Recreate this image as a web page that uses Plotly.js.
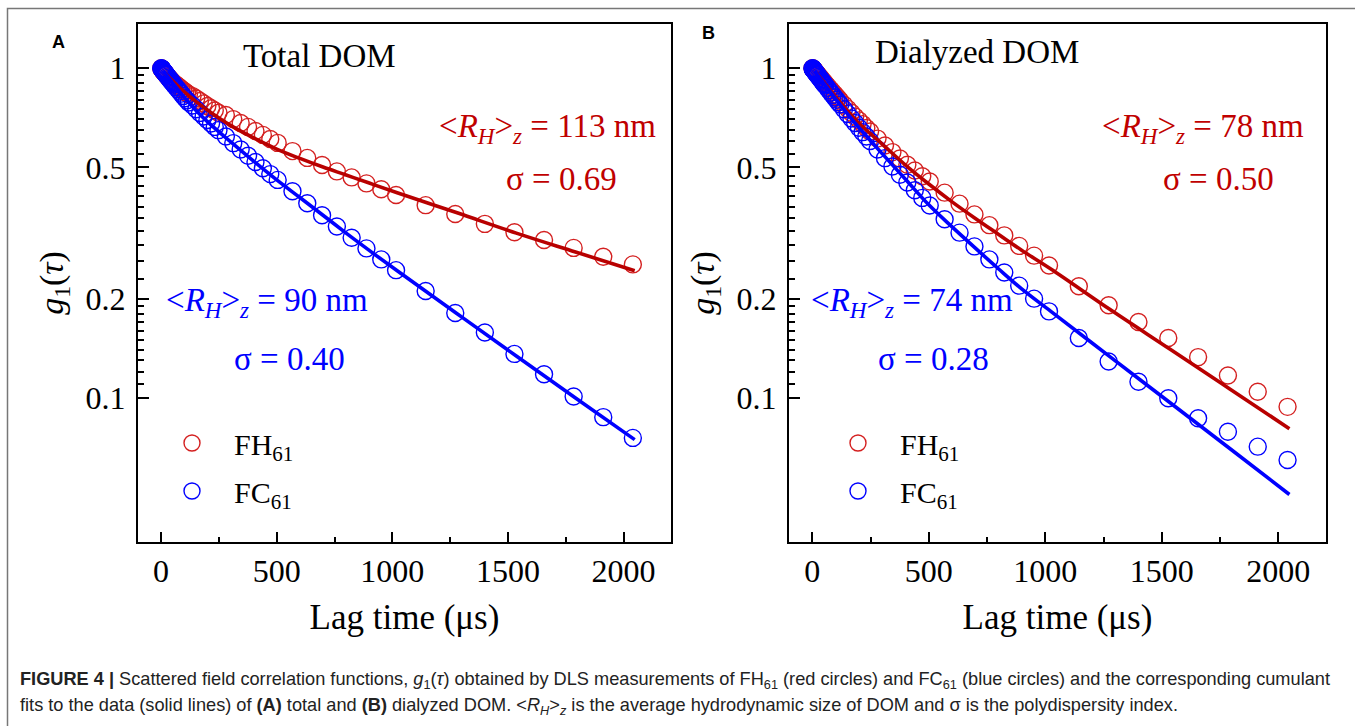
<!DOCTYPE html>
<html><head><meta charset="utf-8">
<script src="https://cdn.plot.ly/plotly-3.0.1.min.js"></script>
<style>html,body{margin:0;padding:0;background:#fff}#chart{width:1355px;height:726px}</style>
</head><body><div id="chart"></div>
<script>
// ---- data (lag time in microseconds, g1(tau)) ----
const lagTime = [1,2,3,4,5,6,7,8,10,12,14,16,18,20,22,24,28,32,36,40,44,48,52,56,64,72,80,88,96,104,112,120,136,152,168,184,200,216,232,248,280,312,344,376,408,440,472,504,568,632,696,760,824,888,952,1016,1144,1272,1400,1528,1656,1784,1912,2040];

const totalFH61 = [0.998,0.995,0.993,0.990,0.988,0.985,0.983,0.981,
  0.978,0.974,0.970,0.966,0.962,0.958,0.954,0.950,
  0.942,0.936,0.929,0.923,0.916,0.910,0.904,0.898,
  0.891,0.882,0.873,0.864,0.855,0.847,0.839,0.831,
  0.822,0.808,0.794,0.781,0.767,0.755,0.743,0.732,
  0.720,0.700,0.681,0.663,0.644,0.627,0.609,0.593,
  0.560,0.534,0.508,0.486,0.466,0.447,0.429,0.412,
  0.384,0.361,0.337,0.318,0.301,0.285,0.268,0.254];

const totalFC61 = [0.998,0.996,0.994,0.992,0.990,0.988,0.985,0.983,
  0.979,0.975,0.971,0.967,0.963,0.959,0.955,0.951,
  0.943,0.935,0.927,0.920,0.912,0.905,0.897,0.890,
  0.876,0.862,0.849,0.836,0.823,0.810,0.798,0.786,
  0.770,0.750,0.731,0.713,0.696,0.679,0.663,0.648,
  0.620,0.592,0.566,0.542,0.519,0.497,0.477,0.458,
  0.423,0.389,0.358,0.331,0.306,0.284,0.263,0.244,
  0.211,0.181,0.158,0.136,0.118,0.101,0.0875,0.0757];

const dialyzedFH61 = [0.998,0.996,0.994,0.992,0.990,0.988,0.986,0.984,
  0.980,0.976,0.973,0.969,0.965,0.961,0.957,0.954,
  0.946,0.939,0.932,0.924,0.917,0.910,0.903,0.896,
  0.883,0.870,0.857,0.844,0.832,0.820,0.808,0.796,
  0.774,0.752,0.732,0.712,0.694,0.676,0.658,0.642,
  0.611,0.582,0.556,0.532,0.509,0.489,0.470,0.453,
  0.419,0.388,0.360,0.334,0.311,0.289,0.270,0.252,
  0.218,0.191,0.170,0.152,0.133,0.117,0.1045,0.094];

const dialyzedFC61 = [0.998,0.996,0.993,0.991,0.989,0.987,0.985,0.983,
  0.978,0.974,0.970,0.966,0.961,0.957,0.953,0.949,
  0.941,0.933,0.925,0.917,0.909,0.901,0.893,0.886,
  0.871,0.856,0.842,0.828,0.814,0.801,0.787,0.775,
  0.750,0.726,0.703,0.681,0.659,0.639,0.620,0.601,
  0.566,0.533,0.503,0.475,0.450,0.426,0.404,0.383,
  0.348,0.317,0.288,0.263,0.240,0.219,0.200,0.183,
  0.152,0.129,0.112,0.0998,0.0868,0.079,0.0712,0.0649];

// cumulant fit curves
const fitLagFH = [16,50,100,150,200,250,300,400,500,600,700,800,900,1024,1280,1536,1792,2048];
const fitTotalFH61 = [0.966,0.913,0.846,0.792,0.746,0.705,0.670,0.614,0.568,0.532,0.501,0.474,0.448,0.418,0.364,0.316,0.277,0.243];
const fitLagFC = [10,50,100,150,200,300,400,500,600,700,800,900,1024,1280,1536,1792,2048];
const fitTotalFC61 = [0.978,0.900,0.815,0.745,0.688,0.598,0.522,0.458,0.405,0.358,0.316,0.280,0.242,0.180,0.134,0.100,0.0748];
const fitLagDialFH = [16,50,100,150,200,300,400,500,600,700,800,900,1024,1280,1536,1792,2048];
const fitDialyzedFH61 = [0.968,0.904,0.818,0.744,0.680,0.588,0.508,0.445,0.393,0.350,0.313,0.280,0.246,0.185,0.1405,0.1065,0.0807];
const fitLagDialFC = [10,50,100,150,200,300,400,500,600,700,800,900,1024,1280,1536,1792,2048];
const fitDialyzedFC61 = [0.978,0.897,0.806,0.727,0.660,0.550,0.460,0.385,0.330,0.2845,0.246,0.2137,0.183,0.133,0.0967,0.0703,0.0510];

// ticks
const xTickVals = [0,500,1000,1500,2000];
const xTickText = ['0','500','1000','1500','2000'];
const xMinorVals = [250,750,1250,1750];
const yTickVals = [0.1,0.2,0.5,1];
const yTickText = ['0.1','0.2','0.5','1'];
const yMinorVals = [0.11,0.12,0.13,0.14,0.15,0.16,0.17,0.18,0.19,
  0.23,0.26,0.29,0.32,0.35,0.38,0.41,0.44,0.47,
  0.55,0.6,0.65,0.7,0.75,0.8,0.85,0.9,0.95];

const seriesNames = ['FH<sub>61</sub>','FC<sub>61</sub>'];

// ---- styling ----
const SERIF = 'Liberation Serif, "Times New Roman", Times, serif';
const SANS = 'Liberation Sans, Arial, Helvetica, sans-serif';
const RED_PT = '#d42020', RED_LN = '#b80000', RED_TX = '#c00000';
const BLUE = '#0000ff';

function dataTrace(x, y, color, name, xa, ya, lg, grp){
  return {x, y, type:'scatter', mode:'markers', name, xaxis:xa, yaxis:ya, legend:lg, legendgroup:grp,
    marker:{symbol:'circle-open', size:17, color, line:{width:1.4, color}},
    hoverinfo:'skip', cliponaxis:true};
}
function fitTrace(x, y, color, xa, ya){
  return {x, y, type:'scatter', mode:'lines', xaxis:xa, yaxis:ya, showlegend:false,
    line:{color, width:3.6, shape:'spline'}, hoverinfo:'skip'};
}

const traces = [
  dataTrace(lagTime, totalFH61, RED_PT, seriesNames[0], 'x', 'y', 'legend', 'a1'),
  dataTrace(lagTime, totalFC61, BLUE, seriesNames[1], 'x', 'y', 'legend', 'a2'),
  fitTrace(fitLagFH, fitTotalFH61, RED_LN, 'x', 'y'),
  fitTrace(fitLagFC, fitTotalFC61, BLUE, 'x', 'y'),
  dataTrace(lagTime, dialyzedFH61, RED_PT, seriesNames[0], 'x2', 'y2', 'legend2', 'b1'),
  dataTrace(lagTime, dialyzedFC61, BLUE, seriesNames[1], 'x2', 'y2', 'legend2', 'b2'),
  fitTrace(fitLagDialFH, fitDialyzedFH61, RED_LN, 'x2', 'y2'),
  fitTrace(fitLagDialFC, fitDialyzedFC61, BLUE, 'x2', 'y2')
];

const W = 1355, H = 726;
const yDom = [1-542/H, 1-24/H];

function xAxis(domain, anchor){
  return {domain, anchor, range:[-100,2205], tickmode:'array', tickvals:xTickVals, ticktext:xTickText,
    ticks:'inside', ticklen:10, tickwidth:2, tickcolor:'#000',
    showline:true, linewidth:2, linecolor:'#000', mirror:true, showgrid:false, zeroline:false,
    tickfont:{family:SERIF, size:32, color:'#000'}, ticklabelstandoff:0,
    minor:{tickmode:'array', tickvals:xMinorVals, ticks:'inside', ticklen:5, tickwidth:2, tickcolor:'#000', showgrid:false},
    title:{text:'Lag time (μs)', font:{family:SERIF, size:35, color:'#000'}, standoff:16},
    fixedrange:true};
}
function yAxis(domain, anchor){
  return {domain, anchor, type:'log', range:[-1.4364, 0.1333], tickmode:'array', tickvals:yTickVals, ticktext:yTickText,
    ticks:'inside', ticklen:11, tickwidth:2, tickcolor:'#000',
    showline:true, linewidth:2, linecolor:'#000', mirror:true, showgrid:false, zeroline:false,
    tickfont:{family:SERIF, size:32, color:'#000'}, ticklabelstandoff:4,
    minor:{tickmode:'array', tickvals:yMinorVals, ticks:'inside', ticklen:6, tickwidth:2, tickcolor:'#000', showgrid:false},
    title:{text:'<i>g</i><sub>1</sub>(<i>τ</i>)', font:{family:SERIF, size:34, color:'#000'}, standoff:12},
    fixedrange:true};
}

function txt(x, y, xref, yref, text, color, size, family){
  return {x, y, xref, yref, text, showarrow:false, xanchor:'center', yanchor:'middle',
    font:{family:family||SERIF, size:size||33, color:color||'#000'}};
}
const RH = (v)=> '&lt;<i>R<sub>H</sub></i>&gt;<sub><i>z</i></sub> = ' + v + ' nm';

const annotations = [
  txt(687, 0.035, 'x', 'y', 'Total DOM'),
  txt(1673, -0.182, 'x', 'y', RH(113), RED_TX),
  txt(1733, -0.335, 'x', 'y', 'σ = 0.69', RED_TX),
  txt(456, -0.712, 'x', 'y', RH(90), BLUE),
  txt(555, -0.882, 'x', 'y', 'σ = 0.40', BLUE),
  txt(706, 0.048, 'x2', 'y2', 'Dialyzed DOM'),
  txt(1679, -0.182, 'x2', 'y2', RH(78), RED_TX),
  txt(1744, -0.335, 'x2', 'y2', 'σ = 0.50', RED_TX),
  txt(427, -0.712, 'x2', 'y2', RH(74), BLUE),
  txt(522, -0.882, 'x2', 'y2', 'σ = 0.28', BLUE),
  {x:58.5/W, y:1-42/H, xref:'paper', yref:'paper', text:'<b>A</b>', showarrow:false, xanchor:'center', yanchor:'middle', font:{family:SANS, size:18, color:'#000'}},
  {x:708/W, y:1-33/H, xref:'paper', yref:'paper', text:'<b>B</b>', showarrow:false, xanchor:'center', yanchor:'middle', font:{family:SANS, size:18, color:'#000'}},
  {x:18/W, y:1-680/H, xref:'paper', yref:'paper', xanchor:'left', yanchor:'middle', showarrow:false, align:'left',
   font:{family:SANS, size:18.2, color:'#222'},
   text:'<b>FIGURE 4 |</b> Scattered field correlation functions, <i>g</i><sub>1</sub>(<i>τ</i>) obtained by DLS measurements of FH<sub>61</sub> (red circles) and FC<sub>61</sub> (blue circles) and the corresponding cumulant'},
  {x:18/W, y:1-706/H, xref:'paper', yref:'paper', xanchor:'left', yanchor:'middle', showarrow:false, align:'left',
   font:{family:SANS, size:18.2, color:'#222'},
   text:'fits to the data (solid lines) of <b>(A)</b> total and <b>(B)</b> dialyzed DOM. &lt;<i>R<sub>H</sub></i>&gt;<sub><i>z</i></sub> is the average hydrodynamic size of DOM and σ is the polydispersity index.'}
];

const legendStyle = (x)=>({x, xanchor:'left', y:1-417/H, yanchor:'top', bgcolor:'rgba(0,0,0,0)', borderwidth:0,
  font:{family:SERIF, size:30, color:'#000'}, itemsizing:'trace', traceorder:'grouped', tracegroupgap:6, itemwidth:74});

const layout = {
  width:W, height:H, margin:{l:0, r:0, t:0, b:0}, paper_bgcolor:'#fff', plot_bgcolor:'#fff',
  xaxis:xAxis([138/W, 671/W], 'y'), yaxis:yAxis(yDom, 'x'),
  xaxis2:xAxis([789/W, 1326/W], 'y2'), yaxis2:yAxis(yDom, 'x2'),
  legend:legendStyle(150/W), legend2:legendStyle(816/W),
  annotations,
  shapes:[{type:'rect', xref:'paper', yref:'paper', x0:7.5/W, x1:1.02, y0:-0.05, y1:1-8.5/H, line:{color:'#777', width:1.5}, layer:'below'}],
  showlegend:true
};

Plotly.newPlot('chart', traces, layout, {staticPlot:true, displayModeBar:false});
</script></body></html>
